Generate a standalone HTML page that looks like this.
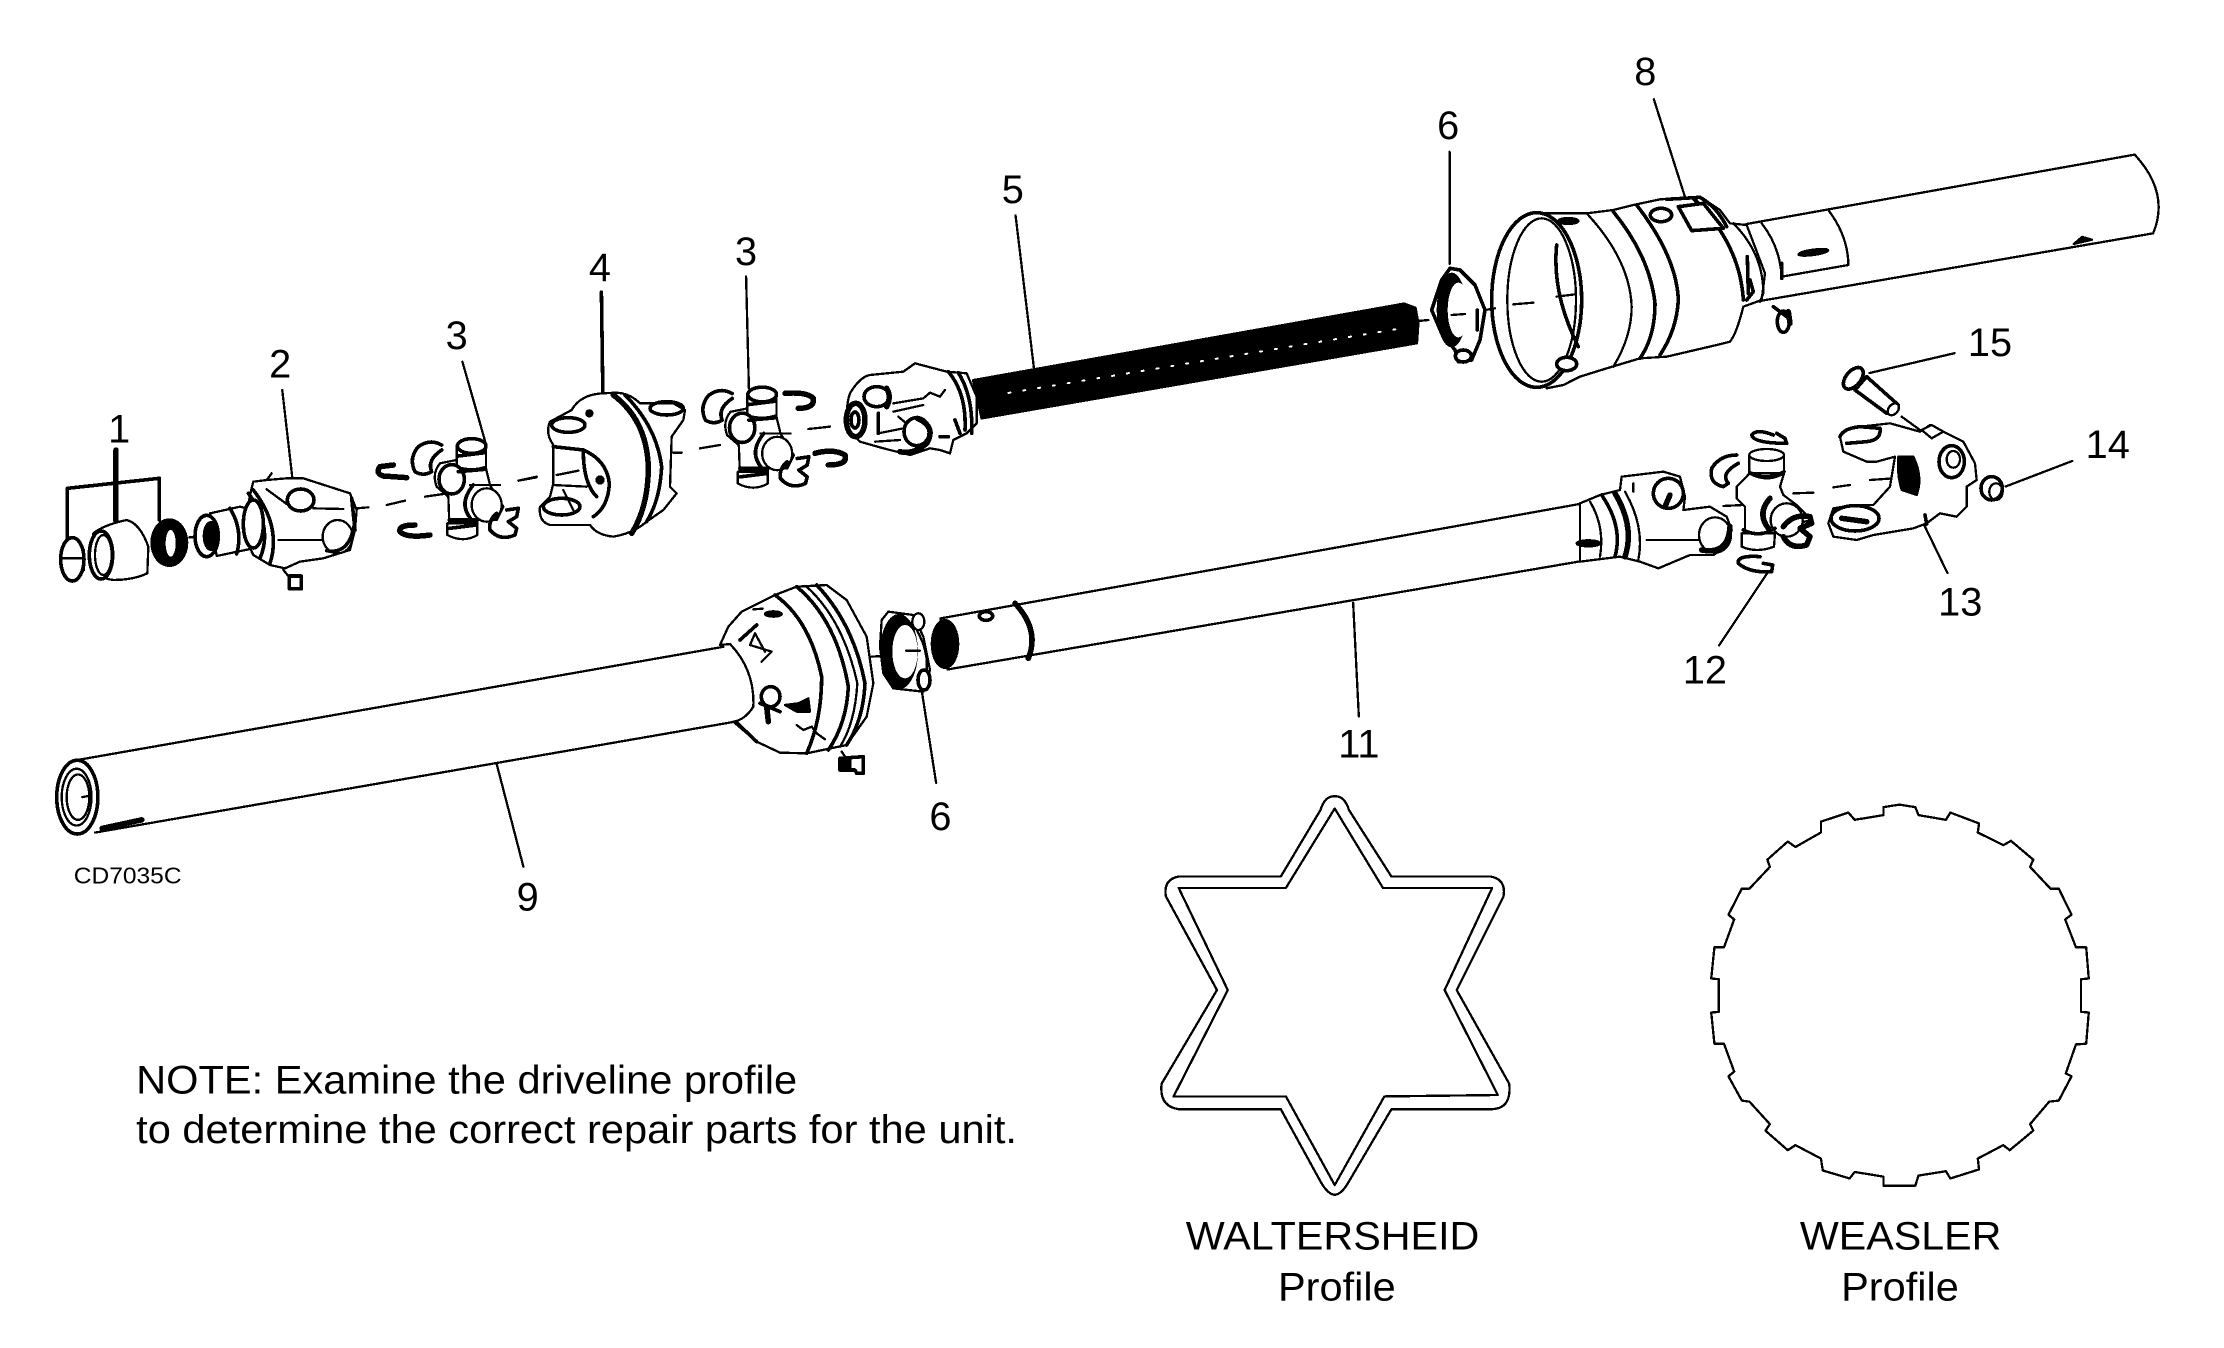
<!DOCTYPE html>
<html lang="en">
<head>
<meta charset="utf-8">
<title>Driveline Parts Diagram</title>
<style>
html,body{margin:0;padding:0;background:#fff;width:2224px;height:1348px;overflow:hidden}
svg{display:block}
text{font-family:"Liberation Sans",Arial,sans-serif;fill:#000}
.n{font-size:28px;text-anchor:middle}
.p path,.p ellipse,.p line,.p polyline,.p polygon,.p circle,.p rect{vector-effect:non-scaling-stroke;stroke:#000;stroke-width:2.3;fill:none;stroke-linejoin:round;stroke-linecap:round;shape-rendering:crispEdges}
.p .w{fill:#fff}
.p .t{stroke-width:3.6}
.p .h{stroke-width:5.5}
.p .b{fill:#000}
.p .nb{stroke:none}
</style>
</head>
<body>
<svg width="2224" height="1348" viewBox="0 0 2224 1348" xmlns="http://www.w3.org/2000/svg">
<rect width="2224" height="1348" fill="#fff"/>
<g class="p">

<!-- base: leaders, tubes, profiles (1568-wide coordinates) -->
<g transform="scale(1.4184)">
<line x1="199" y1="275" x2="206" y2="336"/>
<line x1="326" y1="255" x2="342" y2="311"/>
<line x1="424" y1="206" x2="425" y2="276" class="t"/>
<line x1="526" y1="195" x2="528" y2="274"/>
<line x1="716" y1="152" x2="729" y2="260"/>
<line x1="1022" y1="107" x2="1022" y2="186"/>
<line x1="1166" y1="70" x2="1188" y2="139"/>
<line x1="1318" y1="263" x2="1378" y2="249"/>
<line x1="1414" y1="343" x2="1461" y2="325"/>
<line x1="1357" y1="371" x2="1373" y2="404"/>
<line x1="1246" y1="404" x2="1212" y2="455"/>
<line x1="954" y1="425" x2="958" y2="505"/>
<line x1="650" y1="488" x2="660" y2="552"/>
<line x1="350" y1="538" x2="369" y2="611"/>
<!-- shaft 5 -->
<polygon points="686,268 990,214 998,217 1000,228 999,242 692,295" class="b"/>
<line x1="711" y1="277" x2="985" y2="232" stroke-dasharray="2 13" style="stroke:#fff;stroke-width:2"/>
<!-- tube 9 -->
<line x1="53.5" y1="536" x2="510" y2="456"/>
<line x1="67" y1="587" x2="517" y2="509"/>
<ellipse cx="54.5" cy="562" rx="14.5" ry="26" class="w t"/>
<ellipse cx="54" cy="562" rx="10.5" ry="20"/>
<ellipse cx="55" cy="562" rx="8" ry="16"/>
<line x1="58" y1="562" x2="63" y2="561"/>
<path class="h" d="M72 584 L100 578"/>
<!-- tube 11 -->
<path class="w" d="M663 436 L1121 354 L1136 392 L668 472 Z"/>
<!-- tube 8 -->
<path class="w" d="M1231 158 L1505 109 Q1530 136 1518 164.5 L1242 212 Z"/>
<path class="b" d="M1462 172 L1468 167 L1475 169 Z"/>
<!-- star -->
<path d="M941 561.4 Q948 561 951 571 L981 618 L1051 618 Q1062 620 1060 632 L1027 698 L1064 764 Q1066 782 1051 782 L981 782 L951 833 Q946 842 941 842.4 Q936 842 931 833 L903 782 L831 782 Q817 780 819 764 L858 698 L822 632 Q820 620 831 618 L903 618 L931 571 Q934 561 941 561.4 Z"/>
<path d="M941 570 L975 626 L1052 626 L1018.5 698 L1056 772 L976 773 L941 835.5 L906.6 773 L827.4 773 L865.6 698 L831 626 L906.6 626 Z"/>
<!-- weasler -->
<g transform="translate(810.8,549.9) scale(0.4496,0.2554)">
<polygon points="1150,75 1175,68 1200,75 1205,97 1248,110 1255,90 1300,120 1298,145 1338,180 1350,168 1385,220 1380,240 1412,300 1425,300 1445,372 1435,385 1452,462 1468,462 1472,548 1460,550 1460,640 1472,642 1468,728 1452,730 1436,810 1445,818 1425,885 1410,888 1380,950 1385,968 1348,1022 1338,1008 1298,1045 1300,1075 1255,1100 1248,1080 1205,1092 1200,1120 1150,1120 1150,1095 1105,1082 1097,1100 1055,1078 1052,1045 1012,1008 1000,1022 965,968 972,950 940,888 928,885 907,818 916,805 900,728 885,728 880,642 892,640 892,550 880,548 885,462 900,462 916,385 907,372 928,300 940,300 972,240 968,220 1000,170 1012,185 1052,145 1052,115 1095,90 1105,110 1150,97"/>
</g>
</g>

<!-- parts 1, 2 -->
<g transform="translate(40,430) scale(.33333)">
<polyline points="82,330 82,175 358,145 358,270" class="t"/>
<line x1="228" y1="60" x2="228" y2="275" class="h"/>
<ellipse cx="97" cy="388" rx="35" ry="65" class="w t"/>
<line x1="60" y1="385" x2="130" y2="385"/>
<line x1="132" y1="360" x2="132" y2="420"/>
<path class="w" d="M160 310 Q190 285 260 270 Q300 280 325 350 L322 430 Q280 450 220 450 Q180 445 160 420 Z"/>
<ellipse cx="183" cy="375" rx="35" ry="72" class="w t"/>
<ellipse cx="190" cy="375" rx="25" ry="60"/>
<ellipse cx="388" cy="338" rx="57" ry="73" class="b nb"/>
<ellipse cx="392" cy="340" rx="15" ry="40" style="fill:#fff;stroke:none"/>
<line x1="448" y1="322" x2="468" y2="322"/>
<path class="w" d="M510 250 L600 230 L640 240 L640 355 L530 378 Z"/>
<ellipse cx="500" cy="318" rx="35" ry="62" class="w t"/>
<ellipse cx="513" cy="318" rx="25" ry="45" class="b nb"/>
<path class="t" d="M570 235 Q610 300 590 372"/>
<path class="w" d="M640 155 L680 150 L740 145 L790 145 L930 190 L950 240 L945 300 L930 360 L850 385 L780 395 L735 415 L690 405 L640 375 Q600 300 640 155 Z"/>
<path class="t" d="M640 180 Q725 290 690 400"/>
<path class="t" d="M625 190 Q700 290 660 385"/>
<ellipse cx="640" cy="282" rx="30" ry="72" class="w t"/>
<ellipse cx="782" cy="210" rx="40" ry="33" class="t"/>
<line x1="680" y1="178" x2="740" y2="222"/>
<line x1="820" y1="235" x2="910" y2="237"/>
<line x1="715" y1="330" x2="845" y2="330"/>
<line x1="695" y1="130" x2="680" y2="150"/>
<line x1="950" y1="235" x2="985" y2="232"/>
<line x1="935" y1="205" x2="945" y2="300" class="t"/>
<ellipse cx="893" cy="320" rx="45" ry="50" class="w"/>
<path class="t" d="M860 362 Q925 375 942 290"/>
<line x1="730" y1="420" x2="745" y2="438"/>
<rect x="748" y="438" width="36" height="38" class="t"/>
<line x1="1040" y1="225" x2="1095" y2="212"/>
<line x1="1155" y1="200" x2="1225" y2="190"/>
<line x1="1435" y1="152" x2="1490" y2="142"/>
<path class="h" d="M1060 105 L1020 110 Q1005 130 1030 138 L1100 143"/>
<path class="h" d="M1125 285 Q1075 285 1080 305 Q1100 325 1170 315"/>
</g>

<!-- cross (shared) -->
<g id="crossA" transform="translate(40,430) scale(.33333)">
<path class="t" d="M1205 45 Q1170 25 1135 50 Q1105 85 1125 125 Q1150 140 1175 125 Q1160 90 1205 60"/>
<path class="w" d="M1250 90 L1200 100 Q1175 130 1190 170 L1225 200 L1228 280 L1312 280 L1312 270 L1370 270 L1390 230 L1350 165 L1338 115 L1338 60 L1250 60 Z"/>
<path class="w" d="M1250 50 L1250 110 Q1295 125 1338 110 L1338 50 Z"/>
<ellipse cx="1295" cy="48" rx="43" ry="22" class="w t"/>
<line x1="1255" y1="78" x2="1335" y2="68" class="t"/>
<line x1="1255" y1="125" x2="1335" y2="118" class="t"/>
<ellipse cx="1235" cy="148" rx="38" ry="44" class="t"/>
<path class="w" d="M1222 280 L1222 315 Q1270 340 1312 315 L1312 280 Z"/>
<line x1="1228" y1="270" x2="1312" y2="270" class="t"/>
<line x1="1230" y1="295" x2="1310" y2="285" class="t"/>
<ellipse cx="1340" cy="225" rx="45" ry="50" class="w"/>
<path class="t" d="M1300 165 Q1250 225 1300 275"/>
<line x1="1290" y1="165" x2="1380" y2="165"/>
<path class="t" d="M1400 240 L1435 235 L1430 260 L1405 275 L1430 295 L1425 315 Q1380 335 1350 300 Q1345 270 1370 250"/>
</g>
<use href="#crossA" transform="translate(290.5,-51.5)"/>

<!-- part 4, clips, dashes -->
<g transform="translate(500,350) scale(.33333)">
<path class="w" d="M305 130 Q240 135 215 180 L150 215 Q135 250 160 285 L160 400 L150 440 L120 470 Q115 515 150 525 L270 525 Q290 555 340 560 Q400 550 440 515 L490 480 L530 430 L510 410 L515 260 L550 210 L555 180 L520 160 L420 160 Q390 130 350 128 Z"/>
<path class="h" d="M340 135 Q440 210 445 350 Q445 470 395 550"/>
<path class="t" d="M375 135 Q470 230 485 350 Q480 450 440 515"/>
<ellipse cx="500" cy="175" rx="50" ry="20" class="t"/>
<ellipse cx="205" cy="225" rx="50" ry="22" class="t"/>
<circle cx="268" cy="190" r="9" class="b"/>
<path class="t" d="M160 290 L250 300 Q320 330 328 400 Q325 470 280 500"/>
<path class="t" d="M250 305 Q250 400 290 440"/>
<circle cx="300" cy="390" r="14" class="b nb"/>
<ellipse cx="185" cy="470" rx="55" ry="25" class="t"/>
<path d="M170 375 L235 362 M160 405 L260 410 M190 420 L220 480"/>
<line x1="55" y1="392" x2="110" y2="380"/>
<line x1="520" y1="308" x2="545" y2="308"/>
<line x1="600" y1="295" x2="660" y2="285"/>
<line x1="925" y1="237" x2="990" y2="230"/>
<path class="h" d="M855 130 Q920 125 940 145 Q945 175 895 175"/>
<path class="h" d="M945 310 Q1000 295 1035 315 Q1045 345 985 345"/>
</g>

<!-- part 5 yoke -->
<g transform="translate(840,340) scale(.33333)">
<path class="w" d="M30 160 Q60 110 90 105 L190 95 L225 70 L320 95 L380 100 L410 170 L410 250 L380 280 L340 300 L330 340 L300 330 L270 325 L210 345 L130 325 L60 305 L25 270 Q15 200 30 160 Z"/>
<path class="t" d="M325 95 Q380 160 375 270"/>
<path class="t" d="M355 98 Q400 170 395 280"/>
<ellipse cx="47" cy="240" rx="28" ry="50" class="w h"/>
<ellipse cx="45" cy="240" rx="12" ry="24" class="t"/>
<ellipse cx="110" cy="170" rx="38" ry="30" class="w t"/>
<path class="h" d="M140 145 Q155 170 140 200"/>
<path d="M160 190 L250 175 L270 158 L300 170 L315 150"/>
<path d="M160 215 L250 195"/>
<path d="M175 230 L205 255"/>
<path class="t" d="M115 220 L115 280"/>
<path d="M115 280 L190 265"/>
<path d="M105 305 L180 300"/>
<ellipse cx="230" cy="275" rx="38" ry="42" class="w t"/>
<path class="h" d="M232 235 Q290 260 260 310 Q220 345 180 335"/>
<path class="t" d="M300 290 L325 290"/>
<path class="t" d="M345 240 L360 280"/>
</g>

<!-- part 8 bell + ring 6 -->
<g transform="translate(1400,160) scale(.33333)">
<path class="w" d="M395 160 L480 160 L560 160 L640 150 L700 135 L780 118 L900 110 L960 150 L990 190 L1040 195 L1095 340 L1085 420 L1030 440 Q1010 520 990 545 L950 555 L800 590 L720 595 L620 625 L540 650 L490 675 L440 685 Z"/>
<path d="M1000 190 Q1090 280 1090 400 L1080 425"/>
<path class="t" d="M1042 290 L1045 400"/>
<path class="t" d="M1050 360 L1060 395 L1040 420"/>
<path d="M1085 190 Q1140 260 1145 350 L1345 315 Q1345 230 1285 150"/>
<line x1="1145" y1="310" x2="1145" y2="355" class="t"/>
<ellipse cx="1240" cy="277" rx="45" ry="8" class="b" transform="rotate(-8 1240 277)"/>
<path d="M560 160 Q690 300 695 440 Q695 530 640 620"/>
<path class="t" d="M640 155 Q750 290 765 430 Q765 530 720 595"/>
<path class="t" d="M710 135 Q830 290 835 420 Q830 510 780 585"/>
<path class="t" d="M880 115 Q1020 250 1030 420"/>
<ellipse cx="783" cy="165" rx="32" ry="20" class="t"/>
<polygon points="835,140 910,130 970,205 875,212" class="w t"/>
<path class="t" d="M800 118 L900 112 Q950 140 980 200"/>
<ellipse cx="410" cy="420" rx="135" ry="262" class="w t"/>
<ellipse cx="425" cy="420" rx="103" ry="245"/>
<path class="t" d="M470 255 Q455 400 535 560"/>
<ellipse cx="505" cy="183" rx="30" ry="9" class="b"/>
<ellipse cx="500" cy="612" rx="30" ry="20" class="w t"/>
<line x1="340" y1="433" x2="400" y2="428"/>
<line x1="470" y1="410" x2="525" y2="403"/>
<line x1="255" y1="450" x2="285" y2="445"/>
<line x1="55" y1="483" x2="85" y2="480"/>
<path class="t" d="M1120 440 L1160 470"/>
<ellipse cx="1150" cy="485" rx="18" ry="32" class="t"/>
<path class="h" d="M1165 455 L1170 490"/>
<!-- ring 6 upper -->
<path class="w t" d="M150 325 L180 330 L225 375 L255 450 L240 540 L215 600 L175 605 L165 570 L125 520 L95 450 L125 360 Z"/>
<ellipse cx="155" cy="450" rx="45" ry="112" class="b nb"/>
<ellipse cx="175" cy="450" rx="32" ry="82" style="fill:#fff;stroke:none"/>
<ellipse cx="190" cy="588" rx="24" ry="18" class="w t"/>
<path class="t" d="M232 450 L232 510"/>
<line x1="155" y1="465" x2="195" y2="462"/>
<!-- bolt 15 -->
<path class="w t" d="M1365 690 L1460 760 L1495 735 L1400 650 Z"/>
<ellipse cx="1360" cy="655" rx="22" ry="38" class="w t" transform="rotate(40 1360 655)"/>
<ellipse cx="1480" cy="748" rx="14" ry="20" class="w" transform="rotate(40 1480 748)"/>
</g>

<!-- bell 9 + ring 6 lower + tube 11 end -->
<g transform="translate(700,580) scale(.33333)">
<path class="w" d="M60 195 L85 140 L125 95 L225 45 L290 20 L380 15 L440 60 L500 170 L520 310 L500 410 L440 495 L320 520 L240 518 L170 485 L100 425 Q135 420 160 380 Q165 270 90 192 Z"/>
<path d="M60 195 L90 192"/>
<path class="t" d="M225 45 Q330 120 365 290 Q365 420 320 520"/>
<path class="t" d="M290 20 Q410 120 445 320 Q440 430 385 510"/>
<path d="M320 20 Q430 120 472 310 Q465 430 420 500"/>
<path class="t" d="M350 15 Q460 130 495 310 Q490 420 440 495"/>
<ellipse cx="220" cy="102" rx="25" ry="8" class="b"/>
<line x1="160" y1="88" x2="188" y2="86"/>
<path class="t" d="M120 180 L170 135"/>
<path d="M165 160 L150 195 L215 215 L185 245 M165 160 L195 215"/>
<ellipse cx="212" cy="350" rx="28" ry="30" class="t"/>
<path class="h" d="M200 380 L205 425"/>
<path class="t" d="M180 370 L240 395"/>
<path class="b" d="M255 375 L290 395 L330 395 L325 355 L295 370 Z"/>
<path d="M290 435 L310 450 L335 440 L350 460 L375 478"/>
<path class="t" d="M110 428 L170 485"/>
<line x1="425" y1="515" x2="435" y2="530"/>
<path class="t" d="M420 535 L490 530 L490 580 L470 580 L465 570 L420 570 Z"/>
<path class="b nb" d="M420 535 L455 535 L455 570 L420 570 Z"/>
<line x1="515" y1="230" x2="545" y2="228"/>
<!-- ring -->
<path class="w" d="M565 95 L640 105 L670 170 L690 270 L670 335 L580 325 L550 280 L540 200 L545 120 Z"/>
<ellipse cx="597" cy="215" rx="57" ry="113" class="b nb"/>
<ellipse cx="615" cy="215" rx="38" ry="80" style="fill:#fff;stroke:none"/>
<line x1="618" y1="212" x2="660" y2="212"/>
<ellipse cx="655" cy="125" rx="18" ry="25" class="w"/>
<ellipse cx="672" cy="300" rx="18" ry="30" class="w t"/>
<path d="M650 150 Q685 210 680 270"/>
<!-- tube end -->
<ellipse cx="735" cy="192" rx="43" ry="75" class="b nb"/>
<path class="h" d="M945 70 Q1020 150 985 235"/>
<ellipse cx="858" cy="108" rx="20" ry="13" class="t"/>
</g>

<!-- right assembly -->
<g transform="translate(1580,380) scale(.33333)">
<path class="w" d="M0 370 L60 345 L120 330 L125 290 L250 275 L300 290 L315 350 L310 390 L390 380 L440 410 L455 450 L440 500 L400 525 L330 525 L235 565 L180 545 L120 530 L0 545 Z"/>
<path d="M30 365 Q75 440 60 530"/>
<path class="t" d="M65 345 Q130 440 105 530"/>
<path class="h" d="M105 340 Q165 440 135 530"/>
<path d="M135 335 Q195 440 175 540"/>
<ellipse cx="265" cy="340" rx="45" ry="45" class="w t"/>
<path class="h" d="M270 345 L255 380"/>
<line x1="200" y1="480" x2="355" y2="480"/>
<line x1="160" y1="310" x2="160" y2="335"/>
<line x1="430" y1="378" x2="490" y2="375"/>
<ellipse cx="25" cy="490" rx="35" ry="9" class="b"/>
<ellipse cx="405" cy="465" rx="48" ry="53" class="w"/>
<path class="h" d="M365 510 Q445 525 450 440"/>
<path class="t" d="M580 165 Q530 145 515 165 Q520 190 620 190 L615 175 L590 160"/>
<path class="t" d="M470 225 Q420 225 395 265 Q385 310 430 320 L445 310 Q420 280 475 250"/>
<path class="w" d="M500 290 L470 320 L470 355 L495 380 L495 460 L585 460 L610 440 L695 420 L650 375 L610 345 L600 320 L612 280 L508 280 Z"/>
<path d="M508 225 L508 280 Q560 310 612 280 L612 225"/>
<ellipse cx="560" cy="225" rx="52" ry="18" class="w"/>
<path class="t" d="M510 278 Q560 305 612 275"/>
<ellipse cx="620" cy="420" rx="48" ry="50" class="w"/>
<path class="h" d="M570 355 Q530 400 565 445"/>
<path class="w" d="M485 460 L485 500 Q530 520 582 500 L585 460 Z"/>
<path class="t" d="M490 450 Q540 475 585 445"/>
<path class="h" d="M610 440 Q640 400 690 410 L695 430 L660 445 L690 470 L680 495 Q630 510 610 470"/>
<path class="t" d="M540 530 Q470 525 475 550 Q510 580 575 575 L578 555 L550 550"/>
<line x1="640" y1="340" x2="700" y2="338"/>
<line x1="760" y1="322" x2="810" y2="315"/>
<line x1="870" y1="300" x2="940" y2="295"/>
<path class="w" d="M780 170 Q790 145 840 140 L930 130 L1020 155 L1050 135 L1090 155 L1150 185 L1185 250 L1190 300 L1160 320 L1160 380 L1130 410 L1080 400 L1040 430 L1000 445 L880 465 L830 480 L760 470 L745 430 L760 385 L820 375 L880 375 L930 320 L945 230 L890 245 L860 245 L790 215 Z"/>
<path class="b" d="M955 230 L1000 230 Q1030 290 1010 345 L965 330 Q950 280 955 230 Z"/>
<path class="t" d="M780 170 Q790 145 840 140 L900 145 Q905 180 860 185 L800 190"/>
<ellipse cx="825" cy="415" rx="72" ry="38" class="w t"/>
<path class="h" d="M785 415 L860 425"/>
<ellipse cx="1115" cy="245" rx="38" ry="48" class="t"/>
<ellipse cx="1120" cy="238" rx="20" ry="25"/>
<path d="M1025 150 L1055 135 L1090 155 L1055 175 Z" class="w"/>
<line x1="965" y1="110" x2="1020" y2="150"/>
<line x1="1035" y1="405" x2="1040" y2="432" class="t"/>
<ellipse cx="1235" cy="325" rx="32" ry="35" class="w t"/>
<ellipse cx="1248" cy="335" rx="20" ry="25"/>
</g>
</g>

<!-- labels -->
<g transform="scale(1.4184)">
<text class="n" x="84" y="312">1</text>
<text class="n" x="197.5" y="266">2</text>
<text class="n" x="322" y="246">3</text>
<text class="n" x="423" y="198">4</text>
<text class="n" x="526" y="187">3</text>
<text class="n" x="714" y="143">5</text>
<text class="n" x="1021" y="98">6</text>
<text class="n" x="1160" y="60">8</text>
<text class="n" x="1403" y="251">15</text>
<text class="n" x="1486" y="323">14</text>
<text class="n" x="1382" y="434">13</text>
<text class="n" x="1202" y="482">12</text>
<text class="n" x="958" y="534">11</text>
<text class="n" x="663" y="585">6</text>
<text class="n" x="372" y="642">9</text>
<text x="52" y="623" font-size="16" textLength="76" lengthAdjust="spacingAndGlyphs">CD7035C</text>
<text x="96" y="771" font-size="28" textLength="466" lengthAdjust="spacingAndGlyphs">NOTE: Examine the driveline profile</text>
<text x="96" y="806" font-size="28" textLength="621" lengthAdjust="spacingAndGlyphs">to determine the correct repair parts for the unit.</text>
<text x="836" y="881" font-size="28" textLength="207" lengthAdjust="spacingAndGlyphs">WALTERSHEID</text>
<text x="901" y="917" font-size="28" textLength="83" lengthAdjust="spacingAndGlyphs">Profile</text>
<text x="1269" y="881" font-size="28" textLength="142" lengthAdjust="spacingAndGlyphs">WEASLER</text>
<text x="1298" y="917" font-size="28" textLength="83" lengthAdjust="spacingAndGlyphs">Profile</text>
</g>
</svg>
</body>
</html>
